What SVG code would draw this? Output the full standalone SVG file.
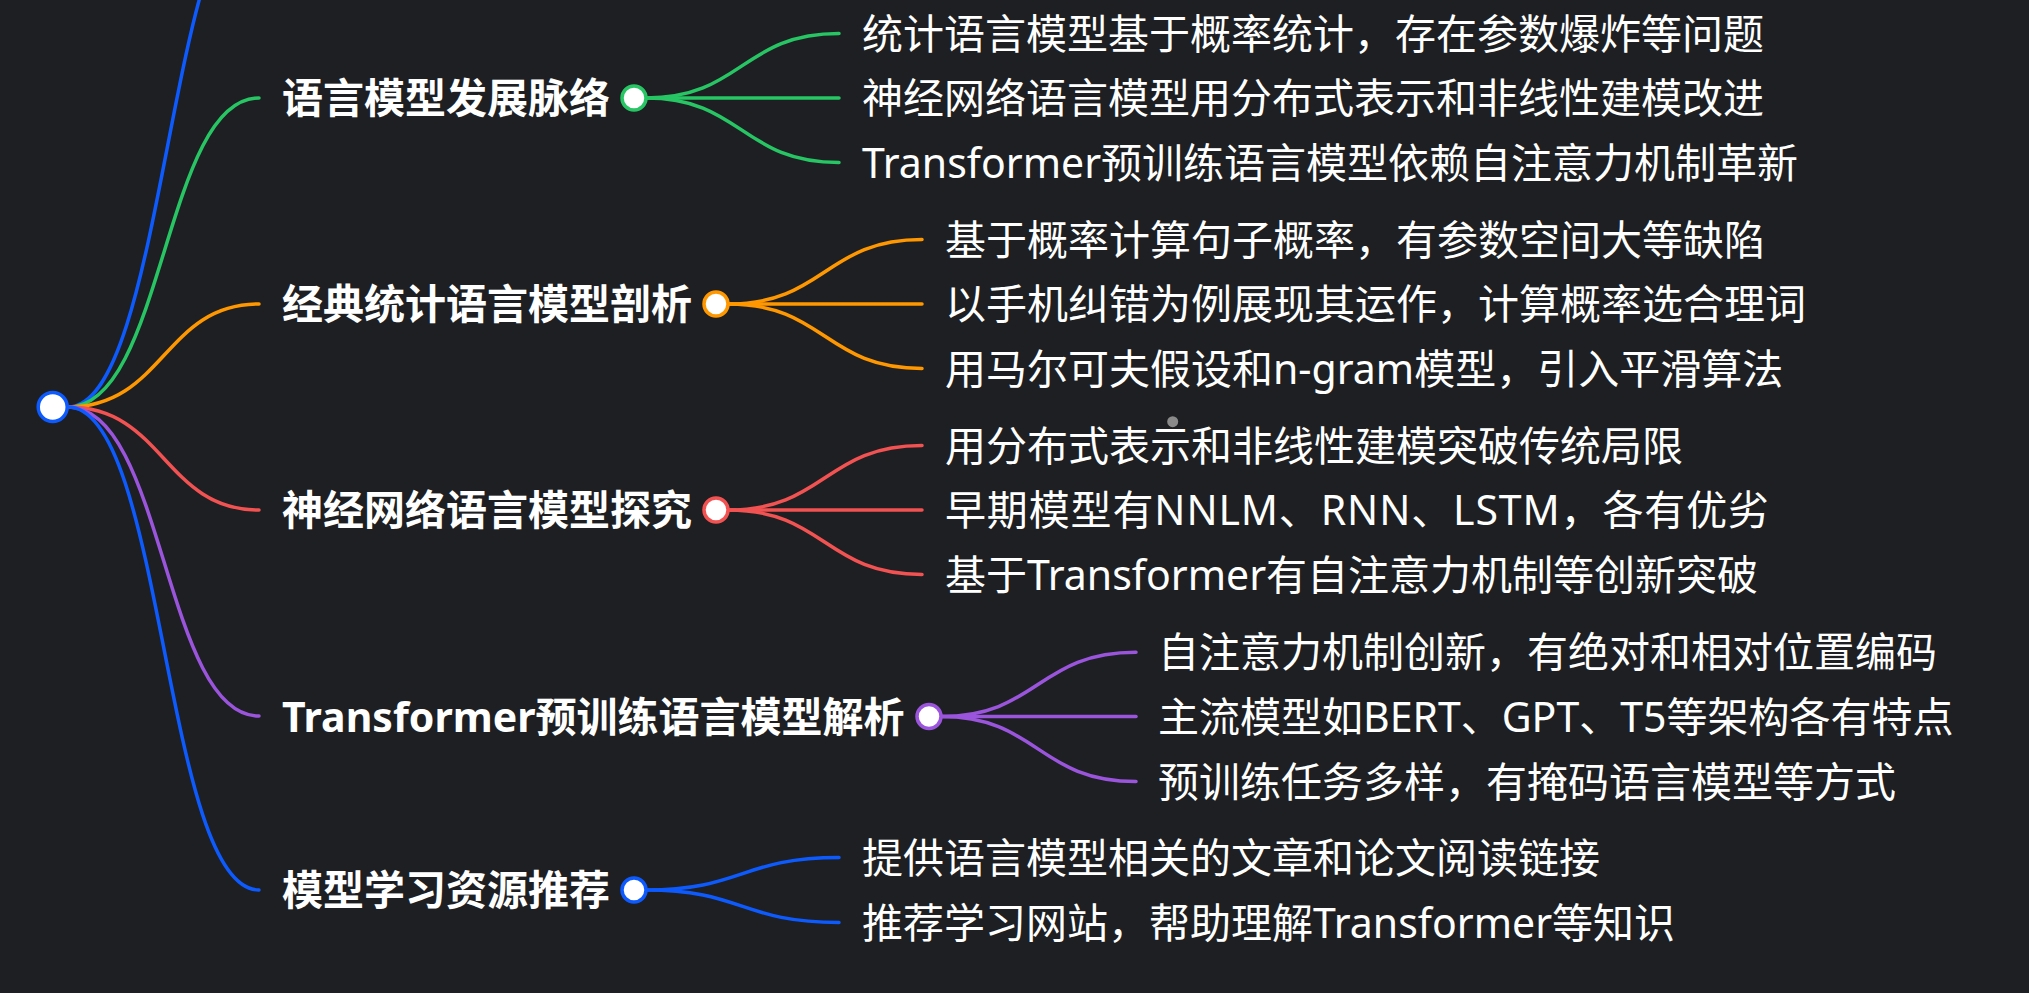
<svg xmlns="http://www.w3.org/2000/svg" width="2029" height="993" viewBox="0 0 2029 993">
<style>
.bg{fill:#1e1f22}
.lk{fill:none;stroke-width:3.5;stroke-linecap:round}
.br{font-family:"Noto Sans","Noto Sans CJK SC",sans-serif;font-weight:700;font-size:41px;fill:#ffffff}
.lf{font-family:"Noto Sans","Noto Sans CJK SC",sans-serif;font-weight:400;font-size:41px;fill:#ffffff}
.nd{fill:#ffffff;stroke-width:3.5}
.g{stroke:#27c564}.o{stroke:#ff9800}.r{stroke:#f25252}.p{stroke:#9b55dd}.b{stroke:#0d5bff}
</style>
<rect class="bg" x="0" y="0" width="2029" height="993"/>
<g id="connectors">
  <path class="lk b" d="M68 407 C164 407,170 -100,259 -100"/>
  <path class="lk g" d="M68 407 C164 407,164 98,259 98"/>
  <path class="lk o" d="M68 407 C164 407,164 304,259 304"/>
  <path class="lk r" d="M68 407 C164 407,164 510,259 510"/>
  <path class="lk p" d="M68 407 C164 407,164 716,259 716"/>
  <path class="lk b" d="M68 407 C164 407,164 890,259 890"/>
  <path class="lk g" d="M646 98 C742 98,742 33.5,839 33.5"/>
  <path class="lk g" d="M646 98 L839 98"/>
  <path class="lk g" d="M646 98 C742 98,742 162.5,839 162.5"/>
  <path class="lk o" d="M728 304 C825 304,825 239.5,922 239.5"/>
  <path class="lk o" d="M728 304 L922 304"/>
  <path class="lk o" d="M728 304 C825 304,825 368.5,922 368.5"/>
  <path class="lk r" d="M728 510 C825 510,825 445.5,922 445.5"/>
  <path class="lk r" d="M728 510 L922 510"/>
  <path class="lk r" d="M728 510 C825 510,825 574.5,922 574.5"/>
  <path class="lk p" d="M941 716.5 C1038 716.5,1038 652.3,1136 652.3"/>
  <path class="lk p" d="M941 716.5 L1136 716.5"/>
  <path class="lk p" d="M941 716.5 C1038 716.5,1038 781.5,1136 781.5"/>
  <path class="lk b" d="M646 890 C742 890,742 857.5,839 857.5"/>
  <path class="lk b" d="M646 890 C742 890,742 922.5,839 922.5"/>
</g>
<g id="root"><circle class="nd b" cx="52.7" cy="407" r="14.5" stroke-width="4"/></g>
<g id="n1">
  <text class="br" x="282" y="113">语言模型发展脉络</text>
  <circle class="nd g" cx="634" cy="98" r="12"/>
</g>
<g id="n1a"><text class="lf" x="862" y="48.5">统计语言模型基于概率统计，存在参数爆炸等问题</text></g>
<g id="n1b"><text class="lf" x="862" y="113">神经网络语言模型用分布式表示和非线性建模改进</text></g>
<g id="n1c"><text class="lf" x="862" y="177.5">Transformer预训练语言模型依赖自注意力机制革新</text></g>
<g id="n2">
  <text class="br" x="282" y="319">经典统计语言模型剖析</text>
  <circle class="nd o" cx="716" cy="304" r="12"/>
</g>
<g id="n2a"><text class="lf" x="945" y="254.5">基于概率计算句子概率，有参数空间大等缺陷</text></g>
<g id="n2b"><text class="lf" x="945" y="319">以手机纠错为例展现其运作，计算概率选合理词</text></g>
<g id="n2c"><text class="lf" x="945" y="383.5">用马尔可夫假设和n-gram模型，引入平滑算法</text></g>
<g id="n3">
  <text class="br" x="282" y="525">神经网络语言模型探究</text>
  <circle class="nd r" cx="716" cy="510" r="12"/>
</g>
<g id="n3a"><text class="lf" x="945" y="460.5">用分布式表示和非线性建模突破传统局限</text></g>
<g id="n3b"><text class="lf" x="945" y="525" textLength="824" lengthAdjust="spacing">早期模型有NNLM、RNN、LSTM，各有优劣</text></g>
<g id="n3c"><text class="lf" x="945" y="589.5">基于Transformer有自注意力机制等创新突破</text></g>
<g id="n4">
  <text class="br" x="282" y="731.5">Transformer预训练语言模型解析</text>
  <circle class="nd p" cx="929" cy="716.5" r="12"/>
</g>
<g id="n4a"><text class="lf" x="1158" y="667.3">自注意力机制创新，有绝对和相对位置编码</text></g>
<g id="n4b"><text class="lf" x="1158" y="731.5">主流模型如BERT、GPT、T5等架构各有特点</text></g>
<g id="n4c"><text class="lf" x="1158" y="796.5">预训练任务多样，有掩码语言模型等方式</text></g>
<g id="n5">
  <text class="br" x="282" y="905">模型学习资源推荐</text>
  <circle class="nd b" cx="634" cy="890" r="12"/>
</g>
<g id="n5a"><text class="lf" x="862" y="872.5">提供语言模型相关的文章和论文阅读链接</text></g>
<g id="n5b"><text class="lf" x="862" y="937.5">推荐学习网站，帮助理解Transformer等知识</text></g>
<circle cx="1172.7" cy="421.7" r="5.5" fill="#8a8a8a"/>
</svg>
